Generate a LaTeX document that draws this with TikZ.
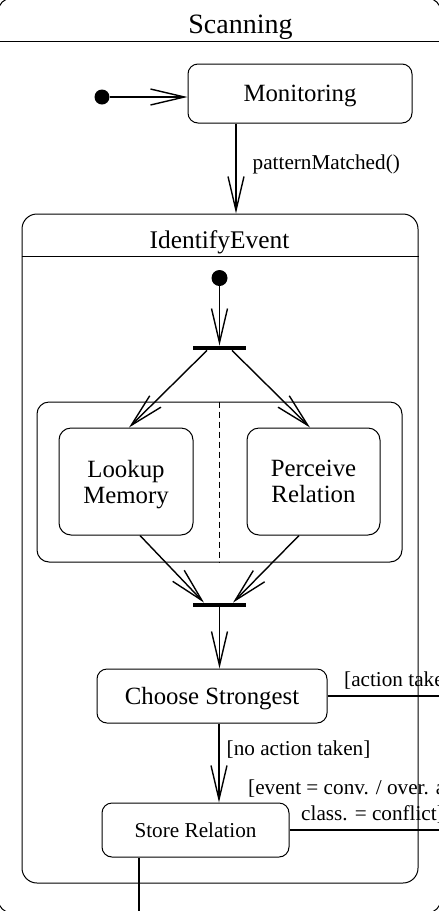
\documentclass[tikz,border=0pt]{standalone}
\usepackage{fontspec}
\setmainfont{Liberation Serif}
\usetikzlibrary{arrows.meta, positioning, calc}

\begin{document}
\begin{tikzpicture}[
        x=0.5pt, y=-0.5pt,
        every node/.style={inner sep=0pt, text depth=0pt},
        state/.style={draw, line width=0.5pt, rounded corners=5pt, align=center, font=\fontsize{12.4}{13}\selectfont},
        initial/.style={circle, fill=black, minimum size=7.5pt},
        bar/.style={fill=black, minimum width=26.5pt, minimum height=2pt},
        trans/.style={line width=0.7pt, -{Straight Barb[length=17pt, width=8pt]}},
        link/.style={line width=0.7pt},
        guard/.style={font=\fontsize{10.6}{13}\selectfont}
    ]
        \useasboundingbox (0,0) rectangle (439,911);

        % Outer state
        \node [draw, line width=0.5pt, rounded corners=7pt, minimum width=221.5pt, minimum height=457.5pt] (scanning) at (219.5,455.5) {};
        \draw[line width=0.5pt] ([yshift=-22pt]scanning.north west) -- ([yshift=-22pt]scanning.north east);
        \node [font=\fontsize{14}{16}\selectfont] (scantitle) at (240.5,24) {Scanning};

        \node [initial] (init0) at (102,97) {};
        \node [state, minimum width=112pt, minimum height=29.5pt] (monitoring) at (300,93.5) {Monitoring};

        % Composite state
        \node [state, rounded corners=7.5pt, minimum width=198pt, minimum height=334.5pt] (ident) at (220,548.5) {};
        \draw[line width=0.5pt] ([yshift=-21.5pt]ident.north west) -- ([yshift=-21.5pt]ident.north east);
        \node [font=\fontsize{12.7}{14}\selectfont] (identtitle) at (219.5,240) {IdentifyEvent};

        \node [initial, minimum size=8pt] (init1) at (219.5,278) {};
        \node [bar] (fork) at (219.5,348) {};
        \node [state, rounded corners=6pt, minimum width=182.5pt, minimum height=80pt] (region) at (219.5,482) {};
        \draw[line width=0.5pt, dash pattern=on 3pt off 2pt] (region.north) -- (region.south);
        \node [state, rounded corners=6pt, minimum width=67pt, minimum height=53.5pt] (lookup) at (126,481.5) {Lookup\\Memory};
        \node [state, rounded corners=6pt, minimum width=66.5pt, minimum height=53.5pt] (perceive) at (313.5,481.5) {Perceive\\Relation};
        \node [bar] (join) at (219.5,605) {};

        \node [state, minimum width=115pt, minimum height=27pt] (choose) at (212,696) {Choose Strongest};
        \node [state, minimum width=93.5pt, minimum height=27pt, font=\fontsize{10.6}{13}\selectfont] (store) at (195.5,830) {Store Relation};

        % Free ends leaving the picture
        \coordinate (patcol) at ([xshift=-32pt]monitoring.south);
        \coordinate (actout) at (470,696);
        \coordinate (conflictout) at (470,830);
        \coordinate (storeout) at (139,940);

        % Transitions
        \draw[trans] (init0) -- (init0 -| monitoring.west);
        \draw[trans] (patcol) -- (patcol |- ident.north)
            node[guard, right=8pt, pos=0.43] {patternMatched()};
        \draw[trans] (init1) -- (fork.north);
        \draw[trans] ([xshift=-6.25pt]fork.south) -- ([xshift=1.5pt]lookup.north);
        \draw[trans] ([xshift=6.25pt]fork.south) -- ([xshift=-1.75pt]perceive.north);
        \draw[trans] ([xshift=7pt]lookup.south) -- ([xshift=-7.75pt]join.north);
        \draw[trans] ([xshift=-7.25pt]perceive.south) -- ([xshift=6.75pt]join.north);
        \draw[trans] (join.south) -- (join.south |- choose.north);
        \draw[trans] ([xshift=3.5pt]choose.south) -- ([xshift=3.5pt]choose.south |- store.north)
            node[guard, right=3.5pt, pos=0.31] {[no action taken]};
        \draw[link] (choose.east) -- (actout)
            node[guard, pos=0, anchor=west, xshift=8pt, yshift=8.5pt] {[action taken]};
        \draw[link] (store.east) -- (conflictout)
            node[guard, pos=0, anchor=west, align=left, xshift=-21pt, yshift=15pt] {[event = conv. / over. and\\\hspace*{26.5pt}class. = conflict]};
        \draw[link] ([xshift=-28.25pt]store.south) -- (storeout);
    \end{tikzpicture}
\end{document}
